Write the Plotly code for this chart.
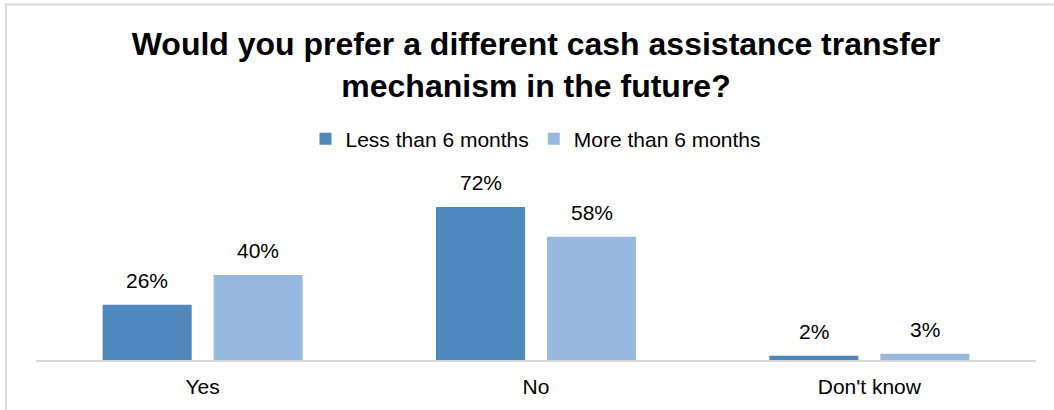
import plotly.graph_objects as go

categories = ["Yes", "No", "Don't know"]
series_names = ["Less than 6 months", "More than 6 months"]
less_than_6 = [26, 72, 2]
more_than_6 = [40, 58, 3]
colors = ["#4F88BC", "#97B9E0"]

title_lines = ["Would you prefer a different cash assistance transfer", "mechanism in the future?"]

FONT = "Liberation Sans, Arial, sans-serif"
W, H = 1054, 410
ml, mr, mt, mb = 36, 18, 190, 50
ymax = 80
BARGAP = 0.334
BARGROUPGAP = 0.198

fig = go.Figure()
for name, vals, col in zip(series_names, [less_than_6, more_than_6], colors):
    fig.add_trace(go.Bar(
        x=categories, y=vals, name=name,
        marker=dict(color=col, line=dict(width=0)),
        hoverinfo="x+y+name",
    ))

# value labels above bars
plot_w = W - ml - mr
slot = plot_w / len(categories)
group_w = slot * (1 - BARGAP)
offsets = [-group_w / 4, group_w / 4]
annotations = []
for off, vals in zip(offsets, [less_than_6, more_than_6]):
    for c, v in zip(categories, vals):
        annotations.append(dict(
            x=c, y=v, xref="x", yref="y", text=f"{v}%", showarrow=False,
            xshift=off, yanchor="bottom", yshift=11,
            font=dict(family=FONT, size=21, color="#000000"),
        ))

plot_h = H - mt - mb
def py(pix):
    return (H - mb - pix) / plot_h
def px(pix):
    return (pix - ml) / plot_w

fig.update_layout(
    width=W, height=H, autosize=False,
    margin=dict(l=ml, r=mr, t=mt, b=mb),
    paper_bgcolor="white", plot_bgcolor="white",
    font=dict(family=FONT, size=21, color="#000000"),
    title=dict(
        text="<b>" + title_lines[0] + "<br>" + title_lines[1] + "</b>",
        x=0.5, xref="paper", xanchor="center",
        y=1 - 55 / H, yref="container", yanchor="top",
        font=dict(size=32, color="#000000"),
    ),
    barmode="group", bargap=BARGAP, bargroupgap=BARGROUPGAP,
    xaxis=dict(showline=True, linecolor="#D9D9D9", linewidth=2, ticks="",
               showgrid=False, tickfont=dict(size=21), ticklabelstandoff=7,
               fixedrange=True),
    yaxis=dict(range=[0, ymax], visible=False, showgrid=False, fixedrange=True),
    legend=dict(orientation="h", x=0.5, xanchor="center", y=py(139), yanchor="middle",
                font=dict(size=21), itemclick=False, traceorder="normal"),
    annotations=annotations,
    shapes=[dict(type="rect", xref="paper", yref="paper",
                 x0=px(6), x1=px(1062), y0=py(420), y1=py(4.5),
                 line=dict(color="#D9D9D9", width=2), fillcolor="rgba(0,0,0,0)", layer="below")],
)

fig.write_html("out.html", config={"displayModeBar": False},
               post_script="document.body.style.margin='0px';document.body.style.overflow='hidden';")
